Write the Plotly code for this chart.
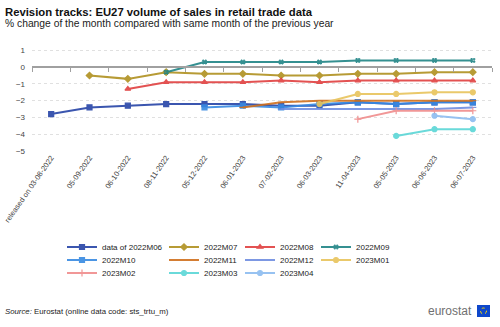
import plotly.graph_objects as go

categories = ["released on 03-08-2022", "05-09-2022", "06-10-2022", "08-11-2022", "05-12-2022",
              "06-01-2023", "07-02-2023", "06-03-2023", "11-04-2023", "05-05-2023", "06-06-2023", "06-07-2023"]
N = None
s_2022M06 = [-2.8, -2.4, -2.3, -2.2, -2.2, -2.2, -2.3, -2.3, -2.1, -2.2, -2.1, -2.1]
s_2022M07 = [N, -0.5, -0.7, -0.3, -0.4, -0.4, -0.5, -0.5, -0.4, -0.4, -0.3, -0.3]
s_2022M08 = [N, N, -1.3, -0.9, -0.9, -0.9, -0.8, -0.9, -0.8, -0.8, -0.8, -0.8]
s_2022M09 = [N, N, N, -0.3, 0.3, 0.3, 0.3, 0.3, 0.4, 0.4, 0.4, 0.4]
s_2022M10 = [N, N, N, N, -2.4, -2.3, -2.4, -2.2, -2.1, -2.2, -2.1, -2.1]
s_2022M11 = [N, N, N, N, N, -2.4, -2.1, -2.0, -2.0, -2.0, -2.0, -2.0]
s_2022M12 = [N, N, N, N, N, N, -2.5, -2.5, -2.5, -2.5, -2.5, -2.4]
s_2023M01 = [N, N, N, N, N, N, N, -2.2, -1.6, -1.6, -1.5, -1.5]
s_2023M02 = [N, N, N, N, N, N, N, N, -3.1, -2.6, -2.6, -2.6]
s_2023M03 = [N, N, N, N, N, N, N, N, N, -4.1, -3.7, -3.7]
s_2023M04 = [N, N, N, N, N, N, N, N, N, N, -2.9, -3.1]

series = [
    ("data of 2022M06", s_2022M06, "#2644A7", "square"),
    ("2022M07", s_2022M07, "#B09120", "diamond"),
    ("2022M08", s_2022M08, "#E04040", "triangle-up"),
    ("2022M09", s_2022M09, "#208486", "hash"),
    ("2022M10", s_2022M10, "#388AE2", "square"),
    ("2022M11", s_2022M11, "#D0701E", "line-ew"),
    ("2022M12", s_2022M12, "#6F8DE0", "line-ew"),
    ("2023M01", s_2023M01, "#E8C45C", "circle"),
    ("2023M02", s_2023M02, "#F08C8C", "cross-thin"),
    ("2023M03", s_2023M03, "#5AD6D6", "circle"),
    ("2023M04", s_2023M04, "#8CBCF0", "circle"),
]

# page geometry (pixels)
W, H = 500, 327
ML, MR, MT, MB = 32, 8, 47, 176
PW, PH = W - ML - MR, H - MT - MB


def px_x(px):
    return (px - ML) / PW


def px_y(py):
    return (H - MB - py) / PH


legend_cols_px = [62, 164, 240, 316]
legend_rows_px = [247, 260, 273]

fig = go.Figure()
legend_layouts = {}
for i, (name, vals, col, sym) in enumerate(series):
    mk = dict(symbol=sym, size=5, color=col, line=dict(color=col, width=1.2))
    lname = "legend" if i == 0 else f"legend{i + 1}"
    fig.add_trace(go.Scatter(x=categories, y=vals, name=name, mode="lines+markers",
                             line=dict(color=col, width=2), marker=mk, opacity=0.9,
                             connectgaps=False, legend=lname))
    r, c = divmod(i, 4)
    legend_layouts[lname] = dict(x=px_x(legend_cols_px[c]), y=px_y(legend_rows_px[r]),
                                 xanchor="left", yanchor="middle", orientation="h",
                                 font=dict(size=8, color="#222"), bgcolor="rgba(0,0,0,0)",
                                 borderwidth=0)

# helper trace for the zero axis with ticks
fig.add_trace(go.Scatter(x=categories, y=[N] * len(categories), xaxis="x2", showlegend=False,
                         hoverinfo="skip", mode="lines"))

ymin, ymax = -5, 1.2
fig.update_layout(
    width=W, height=H,
    margin=dict(l=ML, r=MR, t=MT, b=MB, autoexpand=False),
    paper_bgcolor="white", plot_bgcolor="white",
    font=dict(family="Liberation Sans, Arial, sans-serif", color="#333"),
    xaxis=dict(type="category", categoryarray=categories, range=[-0.5, 11.5], automargin=False,
               showline=False, ticks="", showgrid=False, tickangle=-55,
               tickfont=dict(size=7.5, color="#444")),
    xaxis2=dict(type="category", categoryarray=categories, range=[-0.5, 11.5], automargin=False,
                overlaying="x", anchor="free", position=(0 - ymin) / (ymax - ymin),
                showline=True, linecolor="#A0A0A0", linewidth=1.5, ticks="outside",
                tickson="boundaries", ticklen=4, tickcolor="#A0A0A0", tickwidth=1,
                showticklabels=False, showgrid=False),
    yaxis=dict(range=[ymin, ymax], dtick=1, tick0=0, showgrid=True, gridcolor="#E0E0E0",
               griddash="dot", zeroline=False, ticks="", showline=False, automargin=False,
               tickfont=dict(size=8, color="#444"), ticklabelstandoff=6),
    showlegend=True,
    **legend_layouts,
)

fig.add_annotation(text="<b>Revision tracks: EU27 volume of sales in retail trade data</b>",
                   xref="paper", yref="paper", x=px_x(3), y=px_y(12), xanchor="left", yanchor="middle",
                   showarrow=False, font=dict(size=11.3, color="#111"))
fig.add_annotation(text="% change of the month compared with same month of the previous year",
                   xref="paper", yref="paper", x=px_x(3), y=px_y(23.5), xanchor="left", yanchor="middle",
                   showarrow=False, font=dict(size=10.3, color="#222"))
fig.add_annotation(text="<i>Source:</i> Eurostat (online data code: sts_trtu_m)",
                   xref="paper", yref="paper", x=px_x(3), y=px_y(311), xanchor="left", yanchor="middle",
                   showarrow=False, font=dict(size=7.8, color="#222"))
fig.add_annotation(text="eurostat", xref="paper", yref="paper", x=px_x(474), y=px_y(311),
                   xanchor="right", yanchor="middle", showarrow=False,
                   font=dict(size=12, color="#707070"))
fig.add_shape(type="rect", xref="paper", yref="paper", x0=px_x(477), x1=px_x(490),
              y0=px_y(317), y1=px_y(305), fillcolor="#0E47CB", line=dict(width=0))
fig.add_shape(type="circle", xref="paper", yref="paper", x0=px_x(480.5), x1=px_x(486.5),
              y0=px_y(314), y1=px_y(308), line=dict(color="#FFDD00", width=1, dash="dot"))

fig.write_html("out.html")
